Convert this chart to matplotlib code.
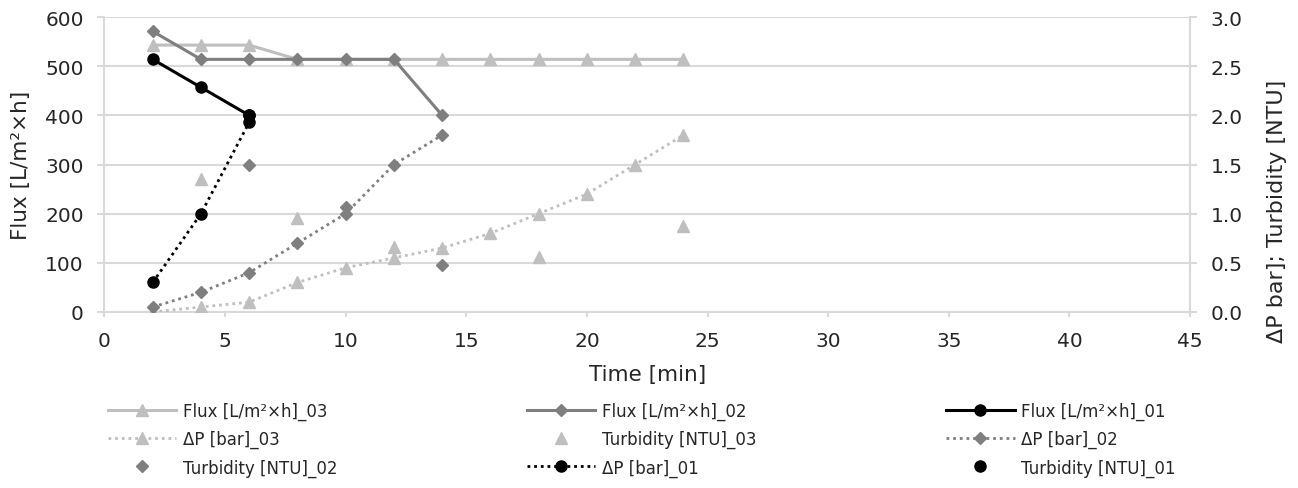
import matplotlib.pyplot as plt
from matplotlib.ticker import FormatStrFormatter

# time axis [min]
time_03 = [2, 4, 6, 8, 10, 12, 14, 16, 18, 20, 22, 24]
time_02 = [2, 4, 6, 8, 10, 12, 14]
time_01 = [2, 4, 6]

# flux [L/m²×h]
flux_03 = [543, 543, 543, 514, 514, 514, 514, 514, 514, 514, 514, 514]
flux_02 = [571, 514, 514, 514, 514, 514, 400]
flux_01 = [514, 457, 400]

# transmembrane pressure [bar]
dp_03 = [0.0, 0.05, 0.1, 0.3, 0.45, 0.55, 0.65, 0.8, 1.0, 1.2, 1.5, 1.8]
dp_02 = [0.05, 0.2, 0.4, 0.7, 1.0, 1.5, 1.8]
dp_01 = [0.3, 1.0, 1.93]

# turbidity [NTU], measured only at some times
turb_time_03 = [4, 8, 12, 18, 24]
turb_03 = [1.35, 0.96, 0.66, 0.56, 0.87]
turb_time_02 = [6, 10, 14]
turb_02 = [1.5, 1.07, 0.48]
turb_time_01 = [6]
turb_01 = [2.0]

LIGHT = '#BFBFBF'
MID = '#7F7F7F'
DARK = '#000000'
GRID = '#D9D9D9'
TEXT = '#262626'
DOT = (0, (1, 1.4))

plt.rcParams['font.family'] = ['DejaVu Sans']

fig = plt.figure(figsize=(12.98, 4.89), dpi=100)
ax = fig.add_axes([0.0805, 0.36, 0.8363, 0.603])
ax2 = ax.twinx()

h = {}
h['f3'], = ax.plot(time_03, flux_03, color=LIGHT, lw=2.2, marker='^', ms=8,
                   label='Flux [L/m²×h]_03')
h['f2'], = ax.plot(time_02, flux_02, color=MID, lw=2.2, marker='D', ms=6,
                   label='Flux [L/m²×h]_02')
h['f1'], = ax.plot(time_01, flux_01, color=DARK, lw=2.2, marker='o', ms=8,
                   label='Flux [L/m²×h]_01')

h['p3'], = ax2.plot(time_03, dp_03, color=LIGHT, lw=2.0, ls=DOT, marker='^', ms=8,
                    label='ΔP [bar]_03')
h['t3'], = ax2.plot(turb_time_03, turb_03, color=LIGHT, lw=0, marker='^', ms=8,
                    label='Turbidity [NTU]_03')
h['p2'], = ax2.plot(time_02, dp_02, color=MID, lw=2.0, ls=DOT, marker='D', ms=6,
                    label='ΔP [bar]_02')
h['t2'], = ax2.plot(turb_time_02, turb_02, color=MID, lw=0, marker='D', ms=6,
                    label='Turbidity [NTU]_02')
h['p1'], = ax2.plot(time_01, dp_01, color=DARK, lw=2.0, ls=DOT, marker='o', ms=8,
                    label='ΔP [bar]_01')
h['t1'], = ax2.plot(turb_time_01, turb_01, color=DARK, lw=0, marker='o', ms=8,
                    label='Turbidity [NTU]_01')

ax.set_xlim(0, 45)
ax.set_ylim(0, 600)
ax2.set_ylim(0, 3)
ax.set_xticks(range(0, 46, 5))
ax.set_yticks(range(0, 601, 100))
ax2.set_yticks([0, 0.5, 1.0, 1.5, 2.0, 2.5, 3.0])
ax2.yaxis.set_major_formatter(FormatStrFormatter('%.1f'))

ax.grid(axis='y', color=GRID, lw=1.5)
ax.set_axisbelow(True)
for a in (ax, ax2):
    for s in a.spines.values():
        s.set_visible(False)
    a.tick_params(colors=GRID, labelcolor=TEXT, labelsize=14.5, width=1.5, length=5, pad=10)
ax.tick_params(axis='x', length=3.6, pad=10)
ax.spines['left'].set_visible(True)
ax.spines['bottom'].set_visible(True)
ax2.spines['right'].set_visible(True)
for s in (ax.spines['left'], ax.spines['bottom'], ax2.spines['right']):
    s.set_color(GRID)
    s.set_linewidth(1.5)

ax.set_xlabel('Time [min]', fontsize=15.5, color=TEXT)
ax.xaxis.set_label_coords(0.5, -0.175)
ax.set_ylabel('Flux [L/m²×h]', fontsize=15.5, color=TEXT)
ax.yaxis.set_label_coords(-0.068, 0.5)
ax2.set_ylabel('ΔP bar]; Turbidity [NTU]', fontsize=16, color=TEXT)
ax2.yaxis.set_label_coords(1.071, 0.346)

# legend reads row by row, so hand the entries over column by column
order = ['f3', 'p3', 't2', 'f2', 't3', 'p1', 'f1', 'p2', 't1']
fig.legend([h[k] for k in order], [h[k].get_label() for k in order],
           loc='upper left', bbox_to_anchor=(0.078, 0.0, 0.833, 0.19), mode='expand',
           ncol=3, frameon=False, fontsize=12, handlelength=4.1, handletextpad=0.4,
           labelspacing=0.6, labelcolor=TEXT, borderaxespad=0)

fig.savefig('out.png', dpi=100)
